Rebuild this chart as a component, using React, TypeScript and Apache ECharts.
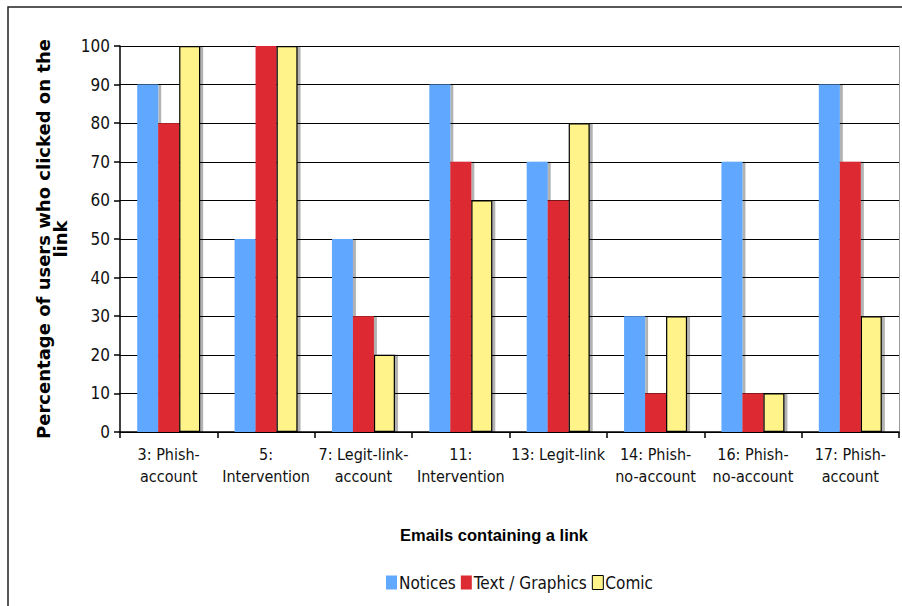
import React, { useEffect, useRef } from "react";
import * as echarts from "echarts";

const categories = [
  "3: Phish-\naccount",
  "5:\nIntervention",
  "7: Legit-link-\naccount",
  "11:\nIntervention",
  "13: Legit-link",
  "14: Phish-\nno-account",
  "16: Phish-\nno-account",
  "17: Phish-\naccount",
];
const notices = [90, 50, 50, 90, 70, 30, 70, 90];
const textGraphics = [80, 100, 30, 70, 60, 10, 10, 70];
const comic = [100, 100, 20, 60, 80, 30, 10, 30];
const yTicks = [0, 10, 20, 30, 40, 50, 60, 70, 80, 90, 100];

const FONT = "'DejaVu Sans Condensed', 'DejaVu Sans', sans-serif";

export default function App() {
  const ref = useRef<HTMLDivElement>(null);
  useEffect(() => {
    if (!ref.current) return;
    const chart = echarts.init(ref.current, null, { renderer: "svg" });
    const shadow = {
      shadowColor: "rgba(0,0,0,0.3)",
      shadowOffsetX: 3,
      shadowOffsetY: 0,
      shadowBlur: 1,
    };
    chart.setOption({
      animation: false,
      backgroundColor: "#fff",
      grid: { left: 120, right: 3, top: 46, bottom: 174 },
      legend: {
        left: 381,
        top: 569,
        itemWidth: 11,
        itemHeight: 14,
        itemGap: 5,
        icon: "rect",
        textStyle: { fontFamily: FONT, fontSize: 17, color: "#111", padding: [0, 0, 0, -3] },
        data: [
          { name: "Notices", itemStyle: { color: "#61a8ff", borderWidth: 0, shadowColor: "transparent" } },
          { name: "Text / Graphics", itemStyle: { color: "#dd2b33", borderWidth: 0, shadowColor: "transparent" } },
          { name: "Comic", itemStyle: { color: "#fff38a", borderColor: "#000", borderWidth: 1, shadowColor: "transparent" } },
        ],
      },
      xAxis: {
        type: "category",
        data: categories,
        axisLine: { lineStyle: { color: "#000", width: 1.5 } },
        axisTick: { show: true, interval: 0, length: 6, lineStyle: { color: "#000", width: 1.5 } },
        axisLabel: {
          interval: 0,
          fontFamily: FONT,
          fontSize: 16,
          color: "#111",
          lineHeight: 22,
          margin: 11,
        },
      },
      yAxis: [
        {
          type: "value",
          min: 0,
          max: 100,
          interval: 10,
          name: "Percentage of users who clicked on the\nlink",
          nameLocation: "middle",
          nameRotate: 90,
          nameGap: 48,
          nameTextStyle: {
            fontFamily: "'DejaVu Sans', sans-serif",
            fontWeight: "bold",
            fontSize: 18,
            color: "#000",
            lineHeight: 17,
          },
          axisLine: { show: true, lineStyle: { color: "#000", width: 1.5 } },
          axisTick: { show: true, length: 6, lineStyle: { color: "#000", width: 1.5 } },
          axisLabel: {
            fontFamily: FONT,
            fontSize: 17,
            color: "#111",
            margin: 10,
            formatter: (v: number) => (yTicks.includes(v) ? String(v) : ""),
          },
          splitLine: { show: true, lineStyle: { color: "#000", width: 1.2 } },
        },
        {
          type: "value",
          min: 0,
          max: 100,
          interval: 10,
          position: "right",
          axisLine: { show: true, lineStyle: { color: "#999", width: 1 } },
          axisTick: { show: false },
          axisLabel: { show: false },
          splitLine: { show: false },
        },
      ],
      series: [
        {
          name: "Notices",
          type: "bar",
          data: notices,
          barWidth: 21,
          barGap: "0%",
          itemStyle: { color: "#61a8ff", ...shadow },
        },
        {
          name: "Text / Graphics",
          type: "bar",
          data: textGraphics,
          barWidth: 21,
          barGap: "0%",
          itemStyle: { color: "#dd2b33", ...shadow },
        },
        {
          name: "Comic",
          type: "bar",
          data: comic,
          barWidth: 21,
          barGap: "0%",
          itemStyle: { color: "#fff38a", borderColor: "#000", borderWidth: 1.2, ...shadow },
        },
      ],
      graphic: [
        {
          type: "rect",
          shape: { x: 8, y: 7, width: 1000, height: 1000 },
          style: { fill: "none", stroke: "#222", lineWidth: 1.5 },
          silent: true,
        },
        {
          type: "text",
          x: 494,
          y: 535,
          style: {
            text: "Emails containing a link",
            font: "bold 16.5px 'Liberation Sans', sans-serif",
            fill: "#000",
            textAlign: "center",
            textVerticalAlign: "middle",
          },
        },
      ],
    });
    return () => chart.dispose();
  }, []);
  return <div ref={ref} style={{ width: 902, height: 606, position: "absolute", left: 0, top: 0 }} />;
}
